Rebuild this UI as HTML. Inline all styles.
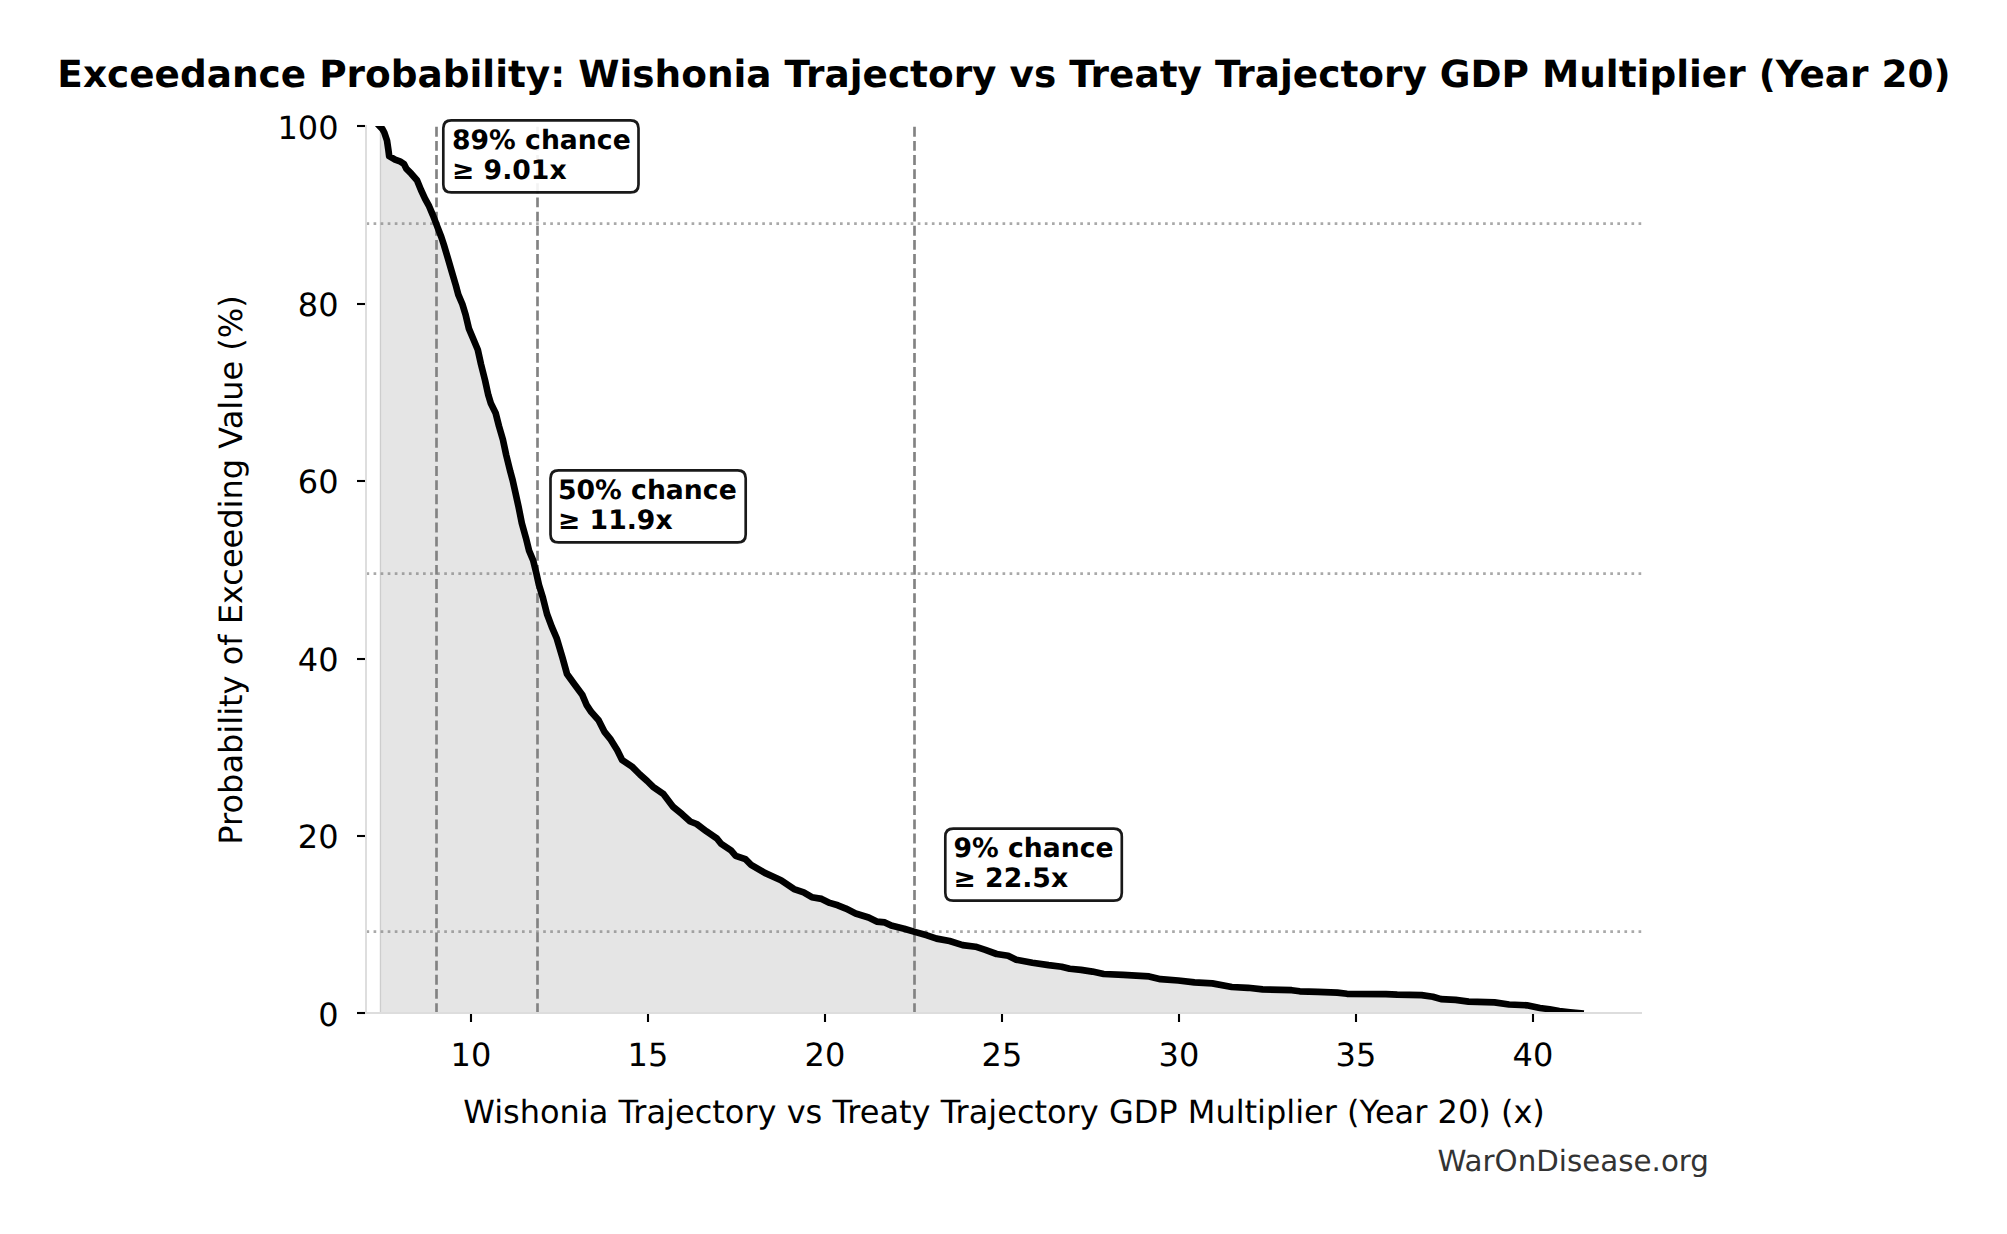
<!DOCTYPE html>
<html lang="en"><head><meta charset="utf-8"><title>Exceedance Probability</title>
<style>html,body{margin:0;padding:0;background:#fff}body{width:2007px;height:1234px;overflow:hidden}
svg{display:block}text{font-family:"DejaVu Sans","Liberation Sans",sans-serif;fill:#000;text-rendering:geometricPrecision}
.b{font-weight:bold}</style></head><body>
<svg width="2007" height="1234" viewBox="0 0 2007 1234">
<rect width="2007" height="1234" fill="#fff"/>
<defs><clipPath id="ax"><rect x="366" y="126" width="1276" height="887"/></clipPath></defs>
<g clip-path="url(#ax)">
<path d="M379.8 1013.0 L379.8 126.3 L382.3 128.9 L384.3 132.5 L387.0 140.5 L388.4 150.0 L389.2 156.2 L395.1 159.6 L399.9 161.3 L404.0 164.0 L406.5 168.9 L411.3 173.7 L417.0 180.2 L421.0 190.0 L425.1 198.9 L429.1 206.2 L433.2 215.9 L437.2 226.4 L441.3 237.0 L443.7 244.2 L447.8 258.0 L451.8 271.8 L455.9 285.6 L458.3 294.6 L462.4 304.3 L465.6 314.8 L468.9 328.6 L473.7 340.0 L477.8 349.7 L481.0 364.3 L485.1 380.5 L488.3 395.1 L490.8 403.2 L495.6 412.9 L498.9 425.9 L502.9 439.6 L506.2 455.0 L510.2 471.2 L512.6 480.0 L515.4 492.4 L518.6 507.0 L521.8 523.2 L525.9 537.8 L529.1 550.8 L533.2 560.5 L536.4 573.5 L538.9 584.8 L542.9 597.8 L547.0 614.0 L551.8 626.9 L556.7 638.3 L562.5 657.8 L567.0 674.0 L573.5 683.0 L582.4 695.1 L586.5 704.8 L591.3 712.1 L598.6 720.2 L604.3 731.6 L610.8 739.7 L617.3 750.2 L622.1 759.9 L631.8 766.4 L639.9 774.5 L647.2 781.0 L652.9 786.7 L663.4 794.0 L673.2 806.9 L682.1 814.2 L690.2 821.5 L696.7 824.0 L706.4 831.3 L716.9 838.5 L721.1 843.8 L730.8 850.2 L735.7 855.9 L745.4 859.2 L751.1 864.8 L764.8 872.9 L781.0 880.2 L794.0 889.1 L803.7 892.4 L811.8 897.2 L821.6 898.9 L829.7 902.9 L837.8 905.3 L845.9 908.6 L855.6 913.5 L868.6 917.5 L876.7 921.6 L884.8 922.4 L891.2 925.6 L904.2 928.8 L915.6 932.1 L926.9 935.3 L936.6 938.6 L949.6 941.0 L962.6 945.1 L975.5 946.7 L985.3 949.9 L996.6 954.0 L1008.1 955.7 L1016.2 959.7 L1032.4 962.7 L1048.6 965.1 L1061.6 966.7 L1069.7 968.8 L1081.0 969.9 L1092.4 971.6 L1103.7 974.0 L1123.2 974.8 L1149.1 976.4 L1160.5 979.2 L1178.3 980.5 L1194.5 982.4 L1212.3 983.4 L1231.8 987.0 L1248.0 987.8 L1262.6 989.4 L1291.7 990.2 L1299.8 991.3 L1317.8 991.8 L1337.3 992.6 L1347.0 993.8 L1385.9 994.1 L1397.2 994.7 L1421.6 995.1 L1432.9 996.7 L1441.0 999.1 L1455.6 999.9 L1468.6 1001.6 L1494.5 1002.4 L1509.1 1004.5 L1526.9 1005.3 L1539.9 1008.0 L1549.6 1009.3 L1559.3 1011.0 L1570.0 1012.2 L1580.5 1013.2 L1580.5 1013.0 Z" fill="#e5e5e5"/>
<line x1="380.5" y1="126" x2="380.5" y2="1013" stroke="#cdcdcd" stroke-width="1.2"/>
<line x1="366.5" y1="223.5" x2="1642" y2="223.5" stroke="#808080" stroke-opacity="0.68" stroke-width="2.75" stroke-dasharray="2.667 4.4"/>
<line x1="366.5" y1="573.5" x2="1642" y2="573.5" stroke="#808080" stroke-opacity="0.68" stroke-width="2.75" stroke-dasharray="2.667 4.4"/>
<line x1="366.5" y1="931.5" x2="1642" y2="931.5" stroke="#808080" stroke-opacity="0.68" stroke-width="2.75" stroke-dasharray="2.667 4.4"/>
<line x1="436.5" y1="1013" x2="436.5" y2="126" stroke="#828282" stroke-width="2.67" stroke-dasharray="9.867 4.267"/>
<line x1="537.5" y1="1013" x2="537.5" y2="126" stroke="#828282" stroke-width="2.67" stroke-dasharray="9.867 4.267"/>
<line x1="914.5" y1="1013" x2="914.5" y2="126" stroke="#828282" stroke-width="2.67" stroke-dasharray="9.867 4.267"/>
<path d="M379.8 126.3 L382.3 128.9 L384.3 132.5 L387.0 140.5 L388.4 150.0 L389.2 156.2 L395.1 159.6 L399.9 161.3 L404.0 164.0 L406.5 168.9 L411.3 173.7 L417.0 180.2 L421.0 190.0 L425.1 198.9 L429.1 206.2 L433.2 215.9 L437.2 226.4 L441.3 237.0 L443.7 244.2 L447.8 258.0 L451.8 271.8 L455.9 285.6 L458.3 294.6 L462.4 304.3 L465.6 314.8 L468.9 328.6 L473.7 340.0 L477.8 349.7 L481.0 364.3 L485.1 380.5 L488.3 395.1 L490.8 403.2 L495.6 412.9 L498.9 425.9 L502.9 439.6 L506.2 455.0 L510.2 471.2 L512.6 480.0 L515.4 492.4 L518.6 507.0 L521.8 523.2 L525.9 537.8 L529.1 550.8 L533.2 560.5 L536.4 573.5 L538.9 584.8 L542.9 597.8 L547.0 614.0 L551.8 626.9 L556.7 638.3 L562.5 657.8 L567.0 674.0 L573.5 683.0 L582.4 695.1 L586.5 704.8 L591.3 712.1 L598.6 720.2 L604.3 731.6 L610.8 739.7 L617.3 750.2 L622.1 759.9 L631.8 766.4 L639.9 774.5 L647.2 781.0 L652.9 786.7 L663.4 794.0 L673.2 806.9 L682.1 814.2 L690.2 821.5 L696.7 824.0 L706.4 831.3 L716.9 838.5 L721.1 843.8 L730.8 850.2 L735.7 855.9 L745.4 859.2 L751.1 864.8 L764.8 872.9 L781.0 880.2 L794.0 889.1 L803.7 892.4 L811.8 897.2 L821.6 898.9 L829.7 902.9 L837.8 905.3 L845.9 908.6 L855.6 913.5 L868.6 917.5 L876.7 921.6 L884.8 922.4 L891.2 925.6 L904.2 928.8 L915.6 932.1 L926.9 935.3 L936.6 938.6 L949.6 941.0 L962.6 945.1 L975.5 946.7 L985.3 949.9 L996.6 954.0 L1008.1 955.7 L1016.2 959.7 L1032.4 962.7 L1048.6 965.1 L1061.6 966.7 L1069.7 968.8 L1081.0 969.9 L1092.4 971.6 L1103.7 974.0 L1123.2 974.8 L1149.1 976.4 L1160.5 979.2 L1178.3 980.5 L1194.5 982.4 L1212.3 983.4 L1231.8 987.0 L1248.0 987.8 L1262.6 989.4 L1291.7 990.2 L1299.8 991.3 L1317.8 991.8 L1337.3 992.6 L1347.0 993.8 L1385.9 994.1 L1397.2 994.7 L1421.6 995.1 L1432.9 996.7 L1441.0 999.1 L1455.6 999.9 L1468.6 1001.6 L1494.5 1002.4 L1509.1 1004.5 L1526.9 1005.3 L1539.9 1008.0 L1549.6 1009.3 L1559.3 1011.0 L1570.0 1012.2 L1580.5 1013.2" fill="none" stroke="#000" stroke-width="6.67" stroke-linejoin="round" stroke-linecap="square"/>
</g>
<line x1="366" y1="125" x2="366" y2="1014" stroke="#dddddd" stroke-width="1.9"/>
<line x1="365" y1="1013" x2="1642" y2="1013" stroke="#dddddd" stroke-width="1.9"/>
<line x1="471" y1="1014" x2="471" y2="1022" stroke="#000" stroke-width="2.1"/>
<text x="470.9" y="1065.6" font-size="32" text-anchor="middle">10</text>
<line x1="648" y1="1014" x2="648" y2="1022" stroke="#000" stroke-width="2.1"/>
<text x="647.9" y="1065.6" font-size="32" text-anchor="middle">15</text>
<line x1="825" y1="1014" x2="825" y2="1022" stroke="#000" stroke-width="2.1"/>
<text x="824.9" y="1065.6" font-size="32" text-anchor="middle">20</text>
<line x1="1002" y1="1014" x2="1002" y2="1022" stroke="#000" stroke-width="2.1"/>
<text x="1001.9" y="1065.6" font-size="32" text-anchor="middle">25</text>
<line x1="1179" y1="1014" x2="1179" y2="1022" stroke="#000" stroke-width="2.1"/>
<text x="1178.9" y="1065.6" font-size="32" text-anchor="middle">30</text>
<line x1="1356" y1="1014" x2="1356" y2="1022" stroke="#000" stroke-width="2.1"/>
<text x="1355.9" y="1065.6" font-size="32" text-anchor="middle">35</text>
<line x1="1533" y1="1014" x2="1533" y2="1022" stroke="#000" stroke-width="2.1"/>
<text x="1532.9" y="1065.6" font-size="32" text-anchor="middle">40</text>
<line x1="357" y1="1013" x2="365" y2="1013" stroke="#000" stroke-width="2.1"/>
<text x="338.5" y="1025.7" font-size="32" text-anchor="end">0</text>
<line x1="357" y1="836" x2="365" y2="836" stroke="#000" stroke-width="2.1"/>
<text x="338.5" y="848.1" font-size="32" text-anchor="end">20</text>
<line x1="357" y1="659" x2="365" y2="659" stroke="#000" stroke-width="2.1"/>
<text x="338.5" y="670.6" font-size="32" text-anchor="end">40</text>
<line x1="357" y1="481" x2="365" y2="481" stroke="#000" stroke-width="2.1"/>
<text x="338.5" y="492.8" font-size="32" text-anchor="end">60</text>
<line x1="357" y1="304" x2="365" y2="304" stroke="#000" stroke-width="2.1"/>
<text x="338.5" y="315.8" font-size="32" text-anchor="end">80</text>
<line x1="357" y1="126" x2="365" y2="126" stroke="#000" stroke-width="2.1"/>
<text x="338.5" y="138.9" font-size="32" text-anchor="end">100</text>
<text class="b" x="1004" y="87" font-size="37.42" text-anchor="middle">Exceedance Probability: Wishonia Trajectory vs Treaty Trajectory GDP Multiplier (Year 20)</text>
<text x="1004" y="1123.1" font-size="32" text-anchor="middle">Wishonia Trajectory vs Treaty Trajectory GDP Multiplier (Year 20) (x)</text>
<text transform="translate(241.5 570) rotate(-90)" font-size="32" text-anchor="middle">Probability of Exceeding Value (%)</text>
<text x="1709" y="1171.2" font-size="29.33" text-anchor="end" style="fill:#333">WarOnDisease.org</text>
<path d="M451.30 120.30 L630.50 120.30 Q638.50 120.30 638.50 128.30 L638.50 184.40 Q638.50 192.40 630.50 192.40 L451.30 192.40 Q443.30 192.40 443.30 184.40 L443.30 128.30 Q443.30 120.30 451.30 120.30 Z" fill="#fff" fill-opacity="0.9" stroke="#000" stroke-opacity="0.9" stroke-width="2.67"/>
<text class="b" x="452.0" y="148.7" font-size="26.67">89% chance</text>
<text class="b" x="452.0" y="179.0" font-size="26.67">≥ 9.01x</text>
<path d="M558.50 470.30 L737.70 470.30 Q745.70 470.30 745.70 478.30 L745.70 534.40 Q745.70 542.40 737.70 542.40 L558.50 542.40 Q550.50 542.40 550.50 534.40 L550.50 478.30 Q550.50 470.30 558.50 470.30 Z" fill="#fff" fill-opacity="0.9" stroke="#000" stroke-opacity="0.9" stroke-width="2.67"/>
<text class="b" x="558.0" y="498.6" font-size="26.67">50% chance</text>
<text class="b" x="558.0" y="528.9" font-size="26.67">≥ 11.9x</text>
<path d="M953.30 828.60 L1113.80 828.60 Q1121.80 828.60 1121.80 836.60 L1121.80 892.70 Q1121.80 900.70 1113.80 900.70 L953.30 900.70 Q945.30 900.70 945.30 892.70 L945.30 836.60 Q945.30 828.60 953.30 828.60 Z" fill="#fff" fill-opacity="0.9" stroke="#000" stroke-opacity="0.9" stroke-width="2.67"/>
<text class="b" x="953.5" y="856.6" font-size="26.67">9% chance</text>
<text class="b" x="953.5" y="886.9" font-size="26.67">≥ 22.5x</text>
</svg></body></html>
